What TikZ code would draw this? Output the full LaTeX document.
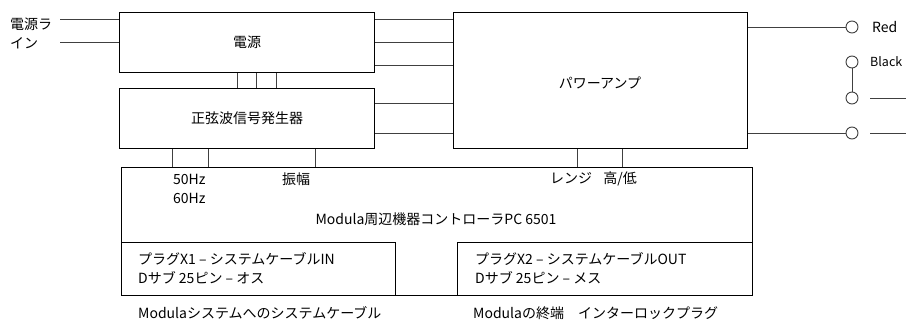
\documentclass[tikz,border=0pt]{standalone}
\usepackage{fontspec}
\setmainfont{Noto Sans CJK JP}
\begin{document}
\begin{tikzpicture}[x=1pt,y=-1pt,
  box/.style={draw=black,line width=1pt,inner sep=0pt,anchor=north west,font=\fontsize{14}{18}\selectfont},
  wire/.style={draw=black!75,line width=0.9pt},
  term/.style={circle,draw=black!75,line width=0.9pt,fill=white,minimum size=12pt,inner sep=0pt},
  lbl/.style={inner sep=0pt,font=\fontsize{14}{19}\selectfont}]
\useasboundingbox (0,0) rectangle (906,320);
% boxes
\node[box,minimum width=255pt,minimum height=60pt] (ps) at (119,12) {電源};
\node[box,minimum width=255pt,minimum height=60pt] (sg) at (119,88) {正弦波信号発生器};
\node[box,minimum width=294pt,minimum height=136pt] (amp) at (453,12) {};
\node[lbl] (amptxt) at (600,83) {パワーアンプ};
\node[box,minimum width=631pt,minimum height=128pt] (ctl) at (121,167) {};
\node[box,minimum width=274pt,minimum height=53pt] (x1) at (121,242) {};
\node[box,minimum width=295pt,minimum height=53pt] (x2) at (457,242) {};
% texts in controller
\node[lbl,anchor=west] (f50) at (173,179) {50Hz};
\node[lbl,anchor=west] (f60) at (173,198) {60Hz};
\node[lbl,anchor=west] (amp2) at (282,179) {振幅};
\node[lbl,anchor=west] (rng) at (550,179) {レンジ\hspace{0.8em}高/低};
\node[lbl] (ctltxt) at (436,219) {Modula周辺機器コントローラPC 6501};
\node[lbl,anchor=west,align=left] (x1txt) at (138,268.5) {プラグX1 – システムケーブルIN\\Dサブ 25ピン – オス};
\node[lbl,anchor=west,align=left] (x2txt) at (475,268.5) {プラグX2 – システムケーブルOUT\\Dサブ 25ピン – メス};
\node[lbl,anchor=west] (b1) at (138,313) {Modulaシステムへのシステムケーブル};
\node[lbl,anchor=west] (b2) at (473,313) {Modulaの終端\hspace{1em}インターロックプラグ};
\node[lbl,anchor=west,align=left] (mains) at (10,33) {電源ラ\\イン};
% mains input
\coordinate (m1) at (60,19);
\coordinate (m2) at (60,42);
\draw[wire] (m1) -- (m1 -| ps.west);
\draw[wire] (m2) -- (m2 -| ps.west);
% ps to amp
\foreach \yy in {19,42,65} \draw[wire] (ps.east |- 0,\yy) -- (amp.west |- 0,\yy);
\foreach \yy in {103,133} \draw[wire] (sg.east |- 0,\yy) -- (amp.west |- 0,\yy);
% ps to sg
\foreach \xx in {237,256,276} \draw[wire] (ps.south -| \xx,0) -- (sg.north -| \xx,0);
% sg to ctl
\foreach \xx in {172,208,315} \draw[wire] (sg.south -| \xx,0) -- (ctl.north -| \xx,0);
% amp to ctl
\foreach \xx in {577,622} \draw[wire] (amp.south -| \xx,0) -- (ctl.north -| \xx,0);
% terminals
\node[term] (tr) at (852,27) {};
\node[term] (tb) at (852,62) {};
\node[term] (tm) at (852,98) {};
\node[term] (tl) at (852,133) {};
\draw[wire] (amp.east |- tr) -- (tr);
\draw[wire] (amp.east |- tl) -- (tl);
\draw[wire] (tb) -- (tm);
\coordinate (e1) at (906,98);
\coordinate (e2) at (906,133);
\draw[wire] (870,98) -- (e1);
\draw[wire] (870,133) -- (e2);
\node[lbl,anchor=west] (red) at (872,27) {Red};
\node[lbl,anchor=west,font=\fontsize{12.5}{15}\selectfont] (blk) at (870,62) {Black};
\end{tikzpicture}
\end{document}
